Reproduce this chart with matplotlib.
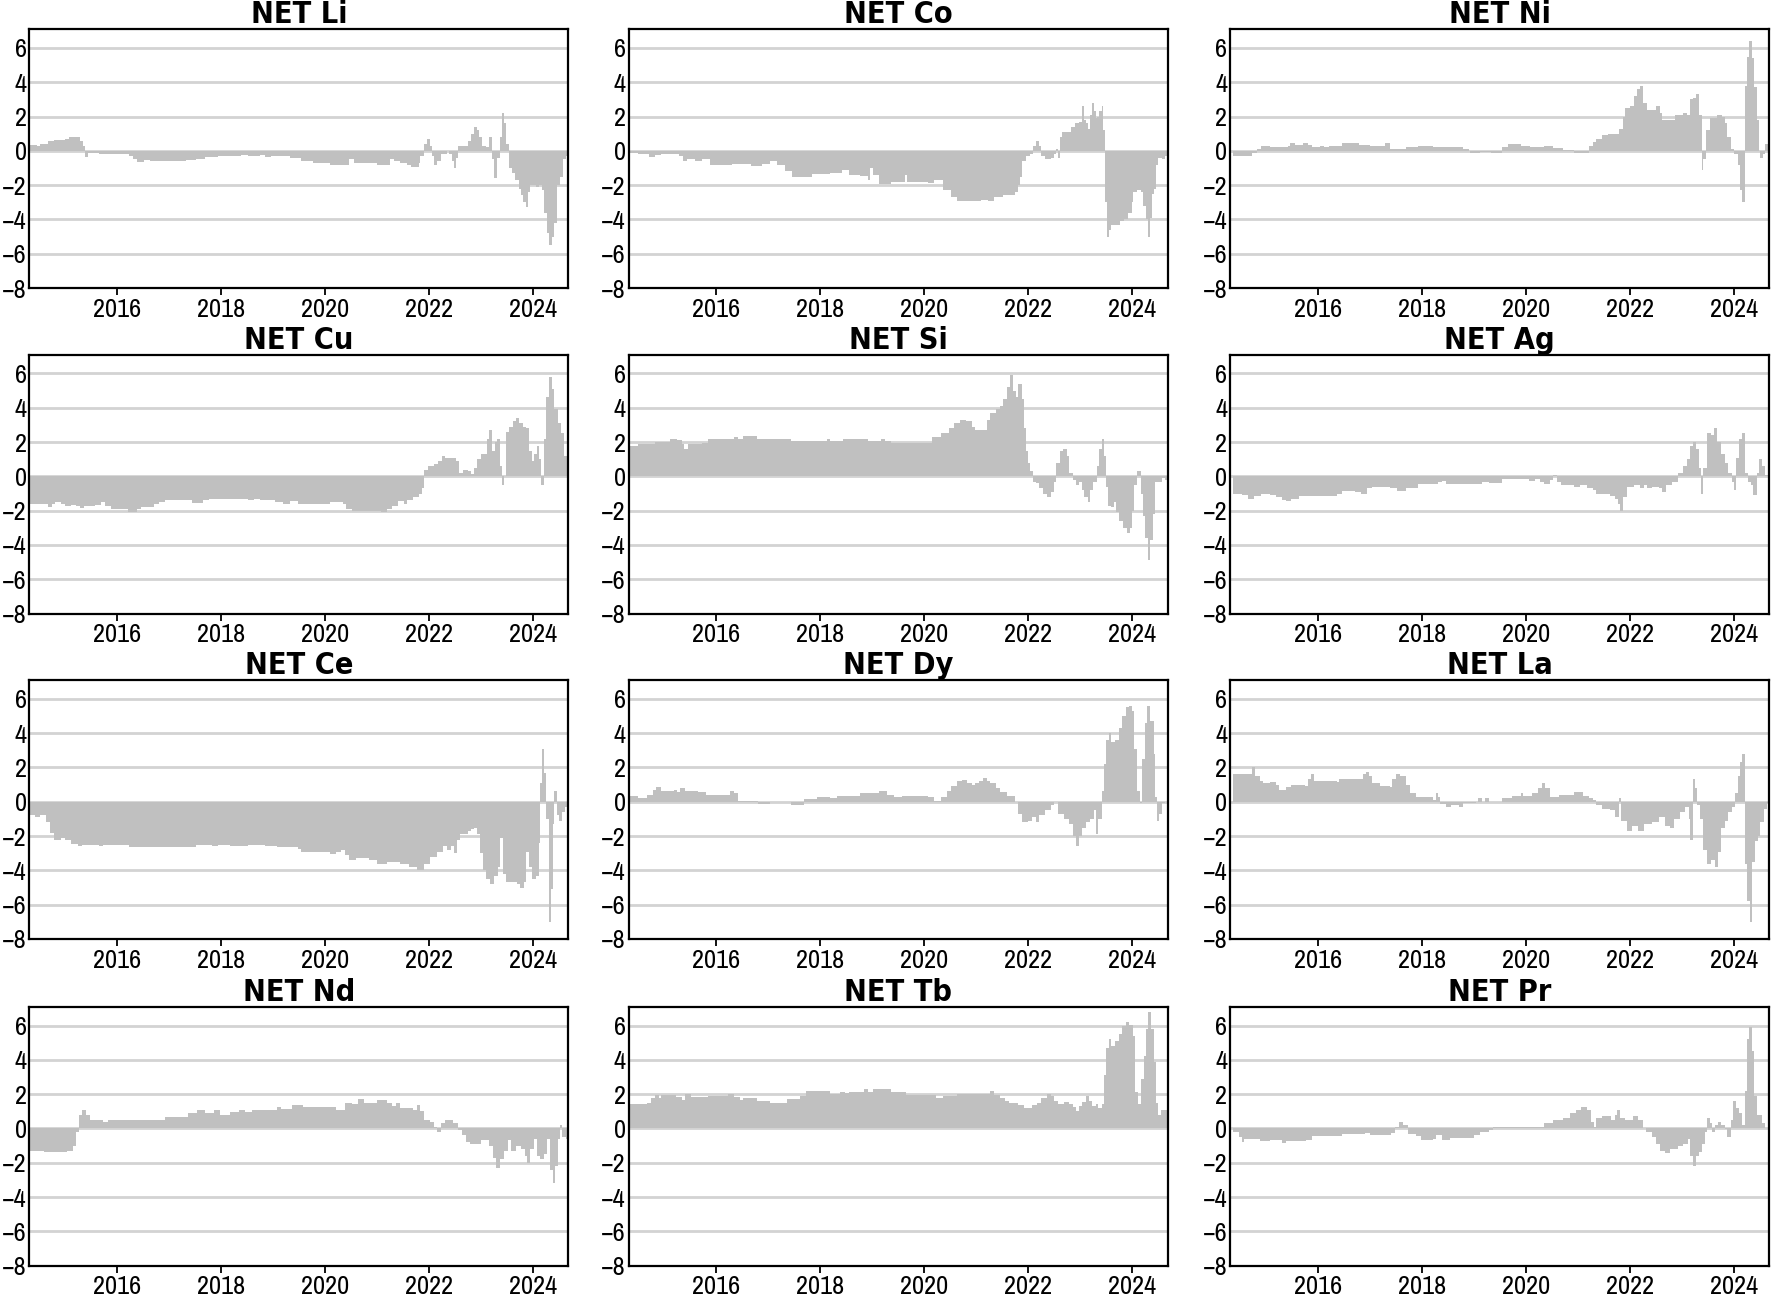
import matplotlib
matplotlib.use("Agg")
import matplotlib.pyplot as plt
import numpy as np

plt.rcParams['font.family'] = ['Archivo Narrow', 'DejaVu Sans']

# (ano, valor), desenhados em degrau
li = [(2014.29, 0.35), (2014.45, 0.3), (2014.52, 0.4), (2014.67, 0.55), (2014.78, 0.65), (2015.0, 0.7),
      (2015.07, 0.8), (2015.29, 0.6), (2015.34, 0.3), (2015.38, -0.35), (2015.43, -0.1), (2015.65, -0.2),
      (2016.23, -0.3), (2016.31, -0.5), (2016.38, -0.65), (2016.52, -0.55), (2016.63, -0.6), (2017.32, -0.55),
      (2017.51, -0.45), (2017.69, -0.35), (2017.94, -0.3), (2018.38, -0.25), (2018.52, -0.3), (2018.74, -0.25),
      (2018.85, -0.35), (2018.96, -0.3), (2019.32, -0.4), (2019.54, -0.6), (2019.76, -0.7), (2020.09, -0.85),
      (2020.38, -0.8), (2020.45, -0.45), (2020.56, -0.7), (2021.0, -0.85), (2021.21, -0.8), (2021.25, -0.45),
      (2021.32, -0.6), (2021.43, -0.7), (2021.58, -0.85), (2021.65, -0.95), (2021.80, -0.7), (2021.83, -0.3),
      (2021.91, 0.4), (2021.96, 0.7), (2022.01, 0.3), (2022.05, -0.3), (2022.09, -0.8), (2022.16, -0.6),
      (2022.23, -0.2), (2022.34, 0.0), (2022.38, -0.2), (2022.43, -0.6), (2022.47, -1.0), (2022.52, -0.4),
      (2022.56, 0.3), (2022.67, 0.3), (2022.74, 0.55), (2022.81, 1.0), (2022.87, 1.4), (2022.92, 1.2),
      (2022.96, 0.8), (2023.02, 0.3), (2023.09, 0.2), (2023.15, 0.8), (2023.2, -0.5), (2023.25, -1.6),
      (2023.31, -0.4), (2023.36, 0.8), (2023.40, 2.2), (2023.44, 1.6), (2023.48, 0.4), (2023.53, -1.0),
      (2023.59, -1.3), (2023.65, -1.7), (2023.72, -2.2), (2023.77, -2.6), (2023.81, -3.0), (2023.87, -3.3),
      (2023.9, -2.4), (2023.94, -2.0), (2024.05, -2.1), (2024.12, -2.0), (2024.17, -2.3), (2024.21, -3.6),
      (2024.26, -4.8), (2024.31, -5.5), (2024.36, -5.0), (2024.4, -4.2), (2024.45, -2.0), (2024.52, -1.5),
      (2024.57, -0.5), (2024.63, -0.3), (2024.67, -0.5)]

co = [(2014.30, -0.15), (2014.49, -0.2), (2014.71, -0.35), (2014.82, -0.25), (2014.93, -0.2), (2015.29, -0.3),
      (2015.36, -0.6), (2015.43, -0.5), (2015.58, -0.6), (2015.72, -0.5), (2015.87, -0.85), (2016.30, -0.75),
      (2016.67, -0.9), (2016.88, -0.75), (2017.03, -0.6), (2017.17, -0.8), (2017.32, -1.2), (2017.46, -1.55),
      (2017.61, -1.5), (2017.83, -1.35), (2018.19, -1.3), (2018.41, -1.1), (2018.55, -1.4), (2018.77, -1.45),
      (2018.91, -1.7), (2018.95, -1.0), (2019.02, -1.4), (2019.13, -1.95), (2019.35, -1.8), (2019.57, -1.8),
      (2019.62, -1.4), (2019.67, -1.8), (2020.07, -1.9), (2020.18, -1.7), (2020.36, -2.3), (2020.51, -2.7),
      (2020.62, -2.95), (2021.09, -2.85), (2021.23, -2.95), (2021.34, -2.7), (2021.52, -2.6), (2021.74, -2.4),
      (2021.81, -2.0), (2021.85, -1.5), (2021.88, -0.6), (2021.96, -0.3), (2022.03, -0.2), (2022.10, 0.3),
      (2022.14, 0.6), (2022.21, 0.3), (2022.25, -0.3), (2022.32, -0.5), (2022.43, -0.4), (2022.50, -0.2),
      (2022.54, 0.1), (2022.57, -0.4), (2022.61, 0.8), (2022.64, 1.1), (2022.75, 1.1), (2022.83, 1.4),
      (2022.90, 1.6), (2022.97, 1.7), (2023.04, 2.6), (2023.08, 1.8), (2023.12, 1.6), (2023.15, 1.3),
      (2023.19, 2.1), (2023.22, 2.8), (2023.26, 2.3), (2023.30, 1.9), (2023.33, 2.0), (2023.37, 2.3),
      (2023.41, 2.6), (2023.44, 1.2), (2023.48, -3.0), (2023.51, -5.0), (2023.55, -4.6), (2023.59, -4.3),
      (2023.70, -4.3), (2023.77, -4.1), (2023.84, -4.0), (2023.91, -3.6), (2023.99, -3.0), (2024.02, -2.4),
      (2024.09, -2.3), (2024.17, -2.4), (2024.20, -3.2), (2024.26, -4.0), (2024.31, -5.0), (2024.35, -3.9),
      (2024.38, -2.5), (2024.42, -2.2), (2024.46, -0.8), (2024.49, -0.4), (2024.57, -0.5), (2024.64, -0.3)]

ni = [(2014.36, -0.3), (2014.70, -0.3), (2014.73, -0.1), (2014.84, 0.1), (2014.91, 0.3), (2015.09, 0.25),
      (2015.42, 0.3), (2015.46, 0.45), (2015.57, 0.35), (2015.71, 0.45), (2015.82, 0.35), (2015.89, 0.25),
      (2016.04, 0.3), (2016.11, 0.2), (2016.22, 0.3), (2016.47, 0.45), (2016.80, 0.35), (2017.01, 0.3),
      (2017.30, 0.45), (2017.38, 0.1), (2017.70, 0.2), (2017.92, 0.3), (2018.21, 0.2), (2018.79, 0.1),
      (2018.90, 0.0), (2018.93, -0.15), (2019.12, -0.05), (2019.33, -0.1), (2019.55, 0.2), (2019.66, 0.4),
      (2019.91, 0.3), (2020.09, 0.25), (2020.24, 0.2), (2020.35, 0.3), (2020.53, 0.15), (2020.71, 0.05),
      (2020.93, -0.1), (2021.22, 0.3), (2021.29, 0.5), (2021.36, 0.7), (2021.47, 0.9), (2021.58, 1.0),
      (2021.72, 1.0), (2021.80, 1.3), (2021.87, 2.0), (2021.91, 2.5), (2022.01, 2.6), (2022.09, 3.2),
      (2022.14, 3.6), (2022.2, 3.8), (2022.25, 2.8), (2022.34, 2.4), (2022.45, 2.4), (2022.51, 2.6),
      (2022.58, 2.2), (2022.63, 1.8), (2022.81, 1.8), (2022.88, 2.1), (2023.03, 2.2), (2023.1, 2.1),
      (2023.16, 3.0), (2023.22, 3.1), (2023.28, 3.3), (2023.33, 2.1), (2023.39, -1.1), (2023.42, -0.5),
      (2023.47, 1.2), (2023.54, 1.9), (2023.68, 2.1), (2023.77, 2.0), (2023.83, 1.6), (2023.88, 0.8),
      (2023.94, 0.1), (2024.01, -0.2), (2024.08, -0.8), (2024.13, -2.3), (2024.17, -3.0), (2024.21, 3.8),
      (2024.26, 5.5), (2024.30, 6.4), (2024.35, 5.4), (2024.39, 3.7), (2024.44, 1.8), (2024.48, 0.0),
      (2024.51, -0.4), (2024.57, -0.2), (2024.61, 0.4), (2024.66, 0.5)]

cu = [(2014.29, -1.6), (2014.67, -1.8), (2014.74, -1.6), (2014.81, -1.5), (2014.92, -1.6), (2015.0, -1.75),
      (2015.11, -1.65), (2015.21, -1.7), (2015.29, -1.85), (2015.36, -1.75), (2015.58, -1.65), (2015.69, -1.5),
      (2015.76, -1.75), (2015.87, -1.9), (2016.2, -2.05), (2016.31, -2.1), (2016.38, -1.9), (2016.45, -1.8),
      (2016.71, -1.6), (2016.81, -1.5), (2016.92, -1.4), (2017.0, -1.35), (2017.43, -1.55), (2017.65, -1.4),
      (2017.76, -1.3), (2018.52, -1.4), (2018.63, -1.3), (2018.74, -1.4), (2019.03, -1.5), (2019.18, -1.6),
      (2019.32, -1.45), (2019.47, -1.6), (2020.09, -1.5), (2020.34, -1.6), (2020.41, -1.9), (2020.52, -2.0),
      (2021.07, -2.1), (2021.18, -1.9), (2021.29, -1.7), (2021.4, -1.45), (2021.51, -1.6), (2021.58, -1.4),
      (2021.69, -1.2), (2021.80, -1.0), (2021.87, -0.7), (2021.91, 0.4), (2021.98, 0.6), (2022.09, 0.7),
      (2022.17, 0.9), (2022.25, 1.2), (2022.31, 1.1), (2022.52, 0.9), (2022.58, 0.2), (2022.65, 0.4),
      (2022.74, 0.3), (2022.81, 0.15), (2022.87, 0.5), (2022.92, 1.0), (2022.99, 1.3), (2023.07, 1.3),
      (2023.12, 2.2), (2023.16, 2.7), (2023.21, 1.5), (2023.27, 2.0), (2023.31, 2.2), (2023.36, 0.6),
      (2023.40, -0.5), (2023.44, 0.0), (2023.47, 2.6), (2023.54, 2.9), (2023.62, 3.2), (2023.67, 3.4),
      (2023.72, 3.1), (2023.8, 2.9), (2023.87, 2.8), (2023.92, 1.5), (2023.98, 0.9), (2024.01, 1.3),
      (2024.07, 1.8), (2024.11, 1.0), (2024.16, -0.5), (2024.2, 2.2), (2024.25, 4.6), (2024.31, 5.8),
      (2024.36, 5.1), (2024.41, 3.9), (2024.47, 3.1), (2024.54, 2.5), (2024.6, 1.2), (2024.65, 0.5)]

si = [(2014.30, 1.8), (2014.49, 1.9), (2014.82, 2.0), (2015.11, 2.2), (2015.25, 2.1), (2015.33, 1.9),
      (2015.38, 1.6), (2015.45, 1.9), (2015.72, 1.95), (2015.83, 2.2), (2016.34, 2.3), (2016.41, 2.2),
      (2016.52, 2.35), (2016.78, 2.2), (2017.43, 2.05), (2018.12, 2.2), (2018.19, 2.05), (2018.44, 2.2),
      (2018.91, 2.05), (2019.17, 2.2), (2019.24, 2.05), (2019.35, 1.95), (2020.14, 2.3), (2020.33, 2.5),
      (2020.47, 2.8), (2020.58, 3.1), (2020.69, 3.3), (2020.80, 3.2), (2020.91, 2.9), (2020.98, 2.7),
      (2021.12, 2.7), (2021.2, 3.3), (2021.27, 3.7), (2021.38, 3.9), (2021.45, 4.1), (2021.52, 4.5),
      (2021.59, 5.2), (2021.64, 5.9), (2021.70, 5.0), (2021.76, 4.6), (2021.81, 5.4), (2021.87, 4.5),
      (2021.92, 2.8), (2021.96, 1.5), (2021.99, 0.8), (2022.03, 0.3), (2022.09, -0.3), (2022.14, -0.4),
      (2022.21, -0.7), (2022.28, -1.0), (2022.36, -1.2), (2022.43, -0.9), (2022.5, -0.3), (2022.54, 0.8),
      (2022.61, 1.5), (2022.67, 1.6), (2022.74, 1.2), (2022.79, 0.2), (2022.86, -0.2), (2022.92, -0.5),
      (2022.97, -0.3), (2023.03, -0.8), (2023.08, -1.2), (2023.14, -1.5), (2023.19, -0.8), (2023.25, -0.3),
      (2023.32, 0.6), (2023.37, 1.6), (2023.41, 2.2), (2023.46, 1.2), (2023.5, -0.6), (2023.54, -1.7),
      (2023.59, -1.8), (2023.64, -1.5), (2023.68, -2.1), (2023.75, -2.6), (2023.83, -3.0), (2023.90, -3.3),
      (2023.95, -3.0), (2024.0, -2.0), (2024.04, -0.5), (2024.09, 0.3), (2024.13, 0.3), (2024.17, -1.0),
      (2024.2, -2.3), (2024.25, -3.6), (2024.31, -4.9), (2024.35, -3.7), (2024.4, -2.2), (2024.44, -0.3),
      (2024.53, -0.3), (2024.58, -0.1), (2024.64, -0.2)]

ag = [(2014.36, -1.0), (2014.55, -1.1), (2014.66, -1.3), (2014.77, -1.15), (2014.91, -1.05), (2015.09, -1.1),
      (2015.20, -1.2), (2015.31, -1.35), (2015.38, -1.45), (2015.49, -1.3), (2015.64, -1.15), (2016.36, -1.0),
      (2016.47, -0.85), (2016.72, -0.9), (2016.83, -1.0), (2016.94, -0.7), (2017.05, -0.6), (2017.38, -0.65),
      (2017.52, -0.85), (2017.7, -0.7), (2017.92, -0.45), (2018.32, -0.35), (2018.39, -0.25), (2018.46, -0.45),
      (2019.15, -0.3), (2019.30, -0.4), (2019.55, -0.15), (2020.06, -0.25), (2020.17, -0.15), (2020.28, -0.3),
      (2020.35, -0.45), (2020.46, -0.2), (2020.53, 0.1), (2020.60, -0.3), (2020.67, -0.5), (2020.93, -0.6),
      (2021.04, -0.5), (2021.18, -0.7), (2021.29, -0.8), (2021.36, -1.0), (2021.51, -1.0), (2021.62, -1.15),
      (2021.72, -1.3), (2021.78, -1.6), (2021.82, -2.0), (2021.87, -1.2), (2021.94, -0.6), (2022.09, -0.5),
      (2022.2, -0.7), (2022.27, -0.5), (2022.34, -0.7), (2022.42, -0.6), (2022.56, -0.7), (2022.63, -0.9),
      (2022.70, -0.5), (2022.81, -0.3), (2022.92, 0.2), (2023.03, 0.6), (2023.1, 1.0), (2023.17, 1.8),
      (2023.22, 2.0), (2023.28, 1.6), (2023.33, 0.5), (2023.38, -1.0), (2023.42, 0.5), (2023.48, 2.5),
      (2023.57, 2.4), (2023.63, 2.8), (2023.68, 2.0), (2023.75, 1.3), (2023.83, 0.8), (2023.9, 0.2),
      (2023.96, -0.3), (2024.0, -0.8), (2024.04, 1.1), (2024.1, 2.2), (2024.17, 2.5), (2024.22, 0.2),
      (2024.28, -0.3), (2024.33, -0.5), (2024.38, -1.1), (2024.44, 0.2), (2024.49, 1.0), (2024.55, 0.6),
      (2024.61, 0.1)]

ce = [(2014.29, -0.8), (2014.41, -0.9), (2014.52, -0.8), (2014.63, -1.2), (2014.71, -1.8), (2014.78, -2.2),
      (2014.92, -2.1), (2015.0, -2.25), (2015.11, -2.45), (2015.25, -2.6), (2015.32, -2.5), (2015.65, -2.6),
      (2015.73, -2.5), (2016.23, -2.65), (2017.51, -2.5), (2017.83, -2.6), (2017.94, -2.5), (2018.16, -2.6),
      (2018.52, -2.5), (2018.85, -2.6), (2019.07, -2.65), (2019.47, -2.75), (2019.54, -2.9), (2020.09, -3.05),
      (2020.2, -2.9), (2020.31, -2.8), (2020.38, -3.1), (2020.45, -3.4), (2020.6, -3.3), (2020.85, -3.4),
      (2021.0, -3.6), (2021.18, -3.5), (2021.43, -3.6), (2021.61, -3.8), (2021.76, -4.0), (2021.91, -3.6),
      (2022.01, -3.2), (2022.16, -2.9), (2022.27, -2.6), (2022.34, -2.8), (2022.42, -2.6), (2022.47, -3.0),
      (2022.54, -2.2), (2022.6, -1.9), (2022.74, -1.7), (2022.81, -1.6), (2022.87, -1.5), (2022.92, -1.9),
      (2022.97, -3.0), (2023.03, -4.0), (2023.1, -4.5), (2023.18, -4.8), (2023.25, -4.3), (2023.32, -3.8),
      (2023.37, -2.1), (2023.42, -4.2), (2023.48, -4.7), (2023.61, -4.7), (2023.69, -4.8), (2023.75, -5.0),
      (2023.82, -4.7), (2023.87, -2.9), (2023.93, -3.8), (2023.98, -4.5), (2024.05, -4.3), (2024.11, -2.4),
      (2024.14, 1.1), (2024.18, 3.1), (2024.21, 1.7), (2024.25, -1.0), (2024.3, -7.0), (2024.35, -5.1),
      (2024.38, -1.3), (2024.41, 0.6), (2024.45, -0.8), (2024.5, -1.1), (2024.56, -0.6), (2024.61, -0.3),
      (2024.65, -0.1)]

dy = [(2014.30, 0.35), (2014.49, 0.2), (2014.67, 0.4), (2014.78, 0.7), (2014.84, 0.85), (2014.93, 0.6),
      (2015.04, 0.65), (2015.18, 0.7), (2015.25, 0.55), (2015.3, 0.8), (2015.4, 0.6), (2015.54, 0.65),
      (2015.65, 0.55), (2015.8, 0.4), (2016.27, 0.6), (2016.34, 0.5), (2016.41, 0.05), (2016.81, -0.15),
      (2017.03, 0.0), (2017.43, -0.2), (2017.68, 0.15), (2017.93, 0.3), (2018.19, 0.2), (2018.33, 0.35),
      (2018.77, 0.5), (2019.13, 0.6), (2019.28, 0.4), (2019.42, 0.25), (2019.57, 0.35), (2020.07, 0.3),
      (2020.18, 0.05), (2020.33, 0.3), (2020.43, 0.6), (2020.51, 0.9), (2020.62, 1.2), (2020.72, 1.25),
      (2020.83, 1.1), (2020.91, 0.95), (2020.98, 1.1), (2021.05, 1.2), (2021.12, 1.4), (2021.2, 1.2),
      (2021.27, 1.1), (2021.38, 0.8), (2021.45, 0.55), (2021.59, 0.35), (2021.74, 0.0), (2021.81, -0.7),
      (2021.88, -1.2), (2021.99, -1.1), (2022.07, -0.9), (2022.14, -1.2), (2022.21, -0.8), (2022.32, -0.5),
      (2022.43, -0.2), (2022.5, 0.0), (2022.57, -0.7), (2022.68, -1.0), (2022.79, -1.3), (2022.86, -2.0),
      (2022.92, -2.6), (2022.97, -2.0), (2023.04, -1.5), (2023.12, -1.2), (2023.19, -1.0), (2023.26, -0.5),
      (2023.3, -1.9), (2023.35, -1.0), (2023.41, 0.6), (2023.46, 2.2), (2023.5, 3.6), (2023.55, 4.0),
      (2023.6, 3.5), (2023.66, 3.6), (2023.74, 4.3), (2023.81, 5.0), (2023.88, 5.5), (2023.93, 5.6),
      (2023.99, 5.3), (2024.04, 3.1), (2024.09, 0.6), (2024.14, -0.1), (2024.18, 2.5), (2024.24, 4.6),
      (2024.29, 5.6), (2024.35, 4.7), (2024.41, 2.8), (2024.44, 0.3), (2024.47, -1.1), (2024.51, -0.7),
      (2024.57, -0.1), (2024.64, 0.0)]

la = [(2014.36, 1.6), (2014.70, 1.6), (2014.73, 2.0), (2014.8, 1.5), (2014.88, 1.2), (2014.95, 1.1),
      (2015.09, 1.15), (2015.2, 1.0), (2015.26, 0.7), (2015.38, 0.85), (2015.49, 1.0), (2015.75, 0.9),
      (2015.82, 1.3), (2015.87, 1.6), (2015.93, 1.2), (2016.36, 1.15), (2016.4, 1.3), (2016.8, 1.35),
      (2016.87, 1.6), (2016.93, 1.75), (2016.98, 1.5), (2017.05, 1.1), (2017.2, 0.9), (2017.38, 0.85),
      (2017.43, 1.3), (2017.51, 1.6), (2017.59, 1.5), (2017.7, 1.0), (2017.78, 0.5), (2017.88, 0.3),
      (2018.21, 0.1), (2018.28, 0.5), (2018.32, 0.3), (2018.36, -0.15), (2018.46, -0.3), (2018.57, -0.2),
      (2018.72, -0.3), (2018.79, -0.05), (2019.04, 0.0), (2019.08, 0.2), (2019.15, 0.0), (2019.22, 0.2),
      (2019.30, 0.0), (2019.55, 0.2), (2019.73, 0.35), (2019.91, 0.5), (2019.95, 0.35), (2020.13, 0.5),
      (2020.24, 0.8), (2020.31, 1.1), (2020.38, 0.8), (2020.46, 0.3), (2020.64, 0.4), (2020.93, 0.55),
      (2021.11, 0.35), (2021.22, 0.2), (2021.29, 0.1), (2021.36, -0.2), (2021.47, -0.4), (2021.62, -0.5),
      (2021.72, -0.9), (2021.80, 0.2), (2021.83, -1.1), (2021.94, -1.7), (2022.05, -1.4), (2022.16, -1.7),
      (2022.27, -1.3), (2022.42, -1.2), (2022.56, -0.9), (2022.67, -1.4), (2022.78, -1.5), (2022.86, -1.0),
      (2022.96, -0.6), (2023.07, -0.3), (2023.14, -1.0), (2023.17, -2.2), (2023.21, 1.3), (2023.26, 0.8),
      (2023.30, -0.2), (2023.35, -1.0), (2023.42, -2.8), (2023.48, -3.6), (2023.57, -3.4), (2023.64, -3.8),
      (2023.69, -2.9), (2023.75, -1.5), (2023.83, -1.1), (2023.9, -0.6), (2023.97, -0.3), (2024.02, 0.5),
      (2024.08, 1.5), (2024.13, 2.3), (2024.17, 2.8), (2024.21, -3.6), (2024.26, -5.8), (2024.31, -7.0),
      (2024.36, -3.5), (2024.41, -2.3), (2024.46, -2.0), (2024.51, -1.2), (2024.59, -0.4), (2024.64, -0.1)]

nd = [(2014.29, -1.3), (2014.6, -1.4), (2014.74, -1.35), (2014.92, -1.4), (2015.03, -1.3), (2015.14, -1.0),
      (2015.21, -0.2), (2015.26, 0.8), (2015.32, 1.1), (2015.4, 0.8), (2015.47, 0.5), (2015.72, 0.35),
      (2015.83, 0.5), (2016.92, 0.65), (2017.36, 0.9), (2017.54, 1.05), (2017.69, 0.9), (2017.87, 1.05),
      (2017.98, 0.8), (2018.16, 0.95), (2018.34, 1.05), (2018.45, 0.95), (2018.6, 1.1), (2019.07, 1.25),
      (2019.15, 1.15), (2019.36, 1.35), (2019.58, 1.25), (2020.2, 1.1), (2020.38, 1.5), (2020.52, 1.4),
      (2020.63, 1.7), (2020.74, 1.5), (2021.0, 1.65), (2021.18, 1.5), (2021.29, 1.3), (2021.36, 1.5),
      (2021.43, 1.2), (2021.69, 1.1), (2021.76, 1.35), (2021.83, 1.0), (2021.91, 0.5), (2022.01, 0.4),
      (2022.09, 0.1), (2022.16, -0.2), (2022.23, 0.3), (2022.31, 0.5), (2022.45, 0.3), (2022.56, -0.1),
      (2022.63, -0.4), (2022.71, -0.8), (2022.78, -0.9), (2023.0, -0.7), (2023.15, -1.0), (2023.22, -1.7),
      (2023.29, -2.3), (2023.36, -1.8), (2023.44, -1.3), (2023.51, -0.7), (2023.58, -1.3), (2023.67, -1.0),
      (2023.76, -1.2), (2023.84, -1.6), (2023.89, -2.0), (2023.94, -1.2), (2024.01, -0.6), (2024.07, -1.6),
      (2024.14, -1.8), (2024.2, -1.5), (2024.27, -0.6), (2024.33, -2.4), (2024.39, -3.2), (2024.43, -2.2),
      (2024.47, -0.6), (2024.51, 0.2), (2024.56, -0.5), (2024.63, -0.6)]

tb = [(2014.30, 1.45), (2014.67, 1.5), (2014.74, 1.8), (2014.82, 1.95), (2014.89, 1.8), (2014.93, 1.95),
      (2015.22, 1.85), (2015.33, 1.65), (2015.4, 2.0), (2015.51, 1.85), (2015.83, 1.9), (2016.23, 2.0),
      (2016.34, 1.85), (2016.45, 1.65), (2016.52, 1.75), (2016.78, 1.6), (2017.03, 1.5), (2017.36, 1.7),
      (2017.61, 1.9), (2017.72, 2.2), (2018.19, 2.0), (2018.37, 2.15), (2018.48, 2.05), (2018.55, 2.15),
      (2018.84, 2.3), (2018.91, 2.15), (2019.02, 2.3), (2019.35, 2.1), (2019.64, 1.95), (2020.22, 1.75),
      (2020.36, 1.9), (2020.62, 2.0), (2021.27, 2.2), (2021.34, 1.95), (2021.45, 1.75), (2021.56, 1.6),
      (2021.63, 1.5), (2021.81, 1.35), (2021.92, 1.2), (2022.07, 1.35), (2022.17, 1.5), (2022.25, 1.75),
      (2022.36, 2.0), (2022.43, 1.9), (2022.5, 1.6), (2022.57, 1.4), (2022.68, 1.55), (2022.79, 1.4),
      (2022.86, 1.25), (2022.91, 1.0), (2022.97, 1.3), (2023.04, 1.55), (2023.12, 1.9), (2023.17, 1.6),
      (2023.22, 1.3), (2023.3, 1.45), (2023.35, 1.2), (2023.41, 1.4), (2023.46, 3.1), (2023.5, 4.7),
      (2023.55, 5.2), (2023.6, 4.8), (2023.66, 5.1), (2023.74, 5.5), (2023.81, 6.0), (2023.88, 6.2),
      (2023.94, 6.05), (2024.01, 5.4), (2024.06, 2.1), (2024.11, 1.4), (2024.17, 2.9), (2024.22, 4.2),
      (2024.26, 5.8), (2024.31, 6.8), (2024.36, 5.8), (2024.41, 3.9), (2024.46, 1.5), (2024.49, 0.8),
      (2024.55, 1.1), (2024.64, 1.1)]

pr = [(2014.36, -0.2), (2014.48, -0.5), (2014.55, -0.8), (2014.59, -0.6), (2014.88, -0.75), (2015.09, -0.7),
      (2015.31, -0.85), (2015.38, -0.75), (2015.78, -0.65), (2015.89, -0.45), (2016.47, -0.35), (2016.91, -0.25),
      (2017.01, -0.4), (2017.41, -0.25), (2017.49, 0.1), (2017.56, 0.35), (2017.63, 0.2), (2017.74, -0.3),
      (2017.88, -0.45), (2017.99, -0.7), (2018.21, -0.6), (2018.28, -0.4), (2018.39, -0.65), (2018.54, -0.55),
      (2019.01, -0.4), (2019.12, -0.2), (2019.30, -0.1), (2019.38, 0.1), (2020.35, 0.3), (2020.53, 0.5),
      (2020.71, 0.6), (2020.86, 0.9), (2020.96, 1.1), (2021.07, 1.25), (2021.18, 1.05), (2021.25, 0.4),
      (2021.32, 0.1), (2021.36, 0.6), (2021.47, 0.7), (2021.54, 0.75), (2021.64, 0.5), (2021.71, 0.8),
      (2021.76, 1.05), (2021.81, 0.6), (2021.91, 0.5), (2022.01, 0.5), (2022.07, 0.75), (2022.16, 0.5),
      (2022.25, 0.0), (2022.32, -0.2), (2022.42, -0.5), (2022.51, -0.9), (2022.59, -1.3), (2022.67, -1.45),
      (2022.78, -1.2), (2022.93, -1.0), (2023.03, -0.9), (2023.12, -0.6), (2023.17, -1.6), (2023.21, -2.2),
      (2023.27, -1.6), (2023.33, -1.4), (2023.39, -0.9), (2023.44, -0.2), (2023.48, 0.6), (2023.54, 0.3),
      (2023.59, -0.2), (2023.65, 0.2), (2023.7, 0.4), (2023.75, 0.2), (2023.83, -0.05), (2023.88, -0.5),
      (2023.94, 0.5), (2023.99, 1.6), (2024.04, 1.2), (2024.1, 0.9), (2024.16, 0.2), (2024.21, 2.2),
      (2024.25, 5.2), (2024.3, 5.9), (2024.35, 4.5), (2024.4, 1.9), (2024.44, 0.8), (2024.51, 0.8),
      (2024.55, 0.3), (2024.6, 0.0), (2024.66, -0.2)]

titulos = ["NET Li", "NET Co", "NET Ni", "NET Cu", "NET Si", "NET Ag",
           "NET Ce", "NET Dy", "NET La", "NET Nd", "NET Tb", "NET Pr"]
series = [li, co, ni, cu, si, ag, ce, dy, la, nd, tb, pr]

anos_ticks = [2016, 2018, 2020, 2022, 2024]
y_ticks = [-8, -6, -4, -2, 0, 2, 4, 6]

fig = plt.figure(figsize=(17.72, 12.98), dpi=100)

lefts = [0.0166, 0.3547, 0.6941]
bottoms = [0.7781, 0.5273, 0.2766, 0.0249]
larg, alt = 0.3042, 0.1995

for i, (tit, s) in enumerate(zip(titulos, series)):
    lin, col = divmod(i, 3)
    ax = fig.add_axes([lefts[col], bottoms[lin], larg, alt])
    x, y = zip(*s)
    x = list(x) + [2024.75]
    y = list(y) + [y[-1]]
    ax.fill_between(x, y, 0, step='post', color='#c0c0c0', linewidth=0, zorder=2)
    ax.set_xlim(2014.31, 2024.68)
    ax.set_ylim(-8, 7.1)
    ax.set_xticks(anos_ticks)
    ax.set_yticks(y_ticks)
    ax.grid(axis='y', color='#d3d3d3', linewidth=2.0, zorder=1)
    ax.set_axisbelow(True)
    for sp in ax.spines.values():
        sp.set_linewidth(1.6)
        sp.set_color('black')
    ax.tick_params(axis='x', length=5, width=1.3, labelsize=19, pad=2)
    ax.tick_params(axis='y', length=0, labelsize=19, pad=2)
    ax.set_title(tit, fontsize=22, fontweight='bold', pad=-2,
                 family='DejaVu Sans', fontstretch='condensed')

fig.savefig("out.png", dpi=100)
